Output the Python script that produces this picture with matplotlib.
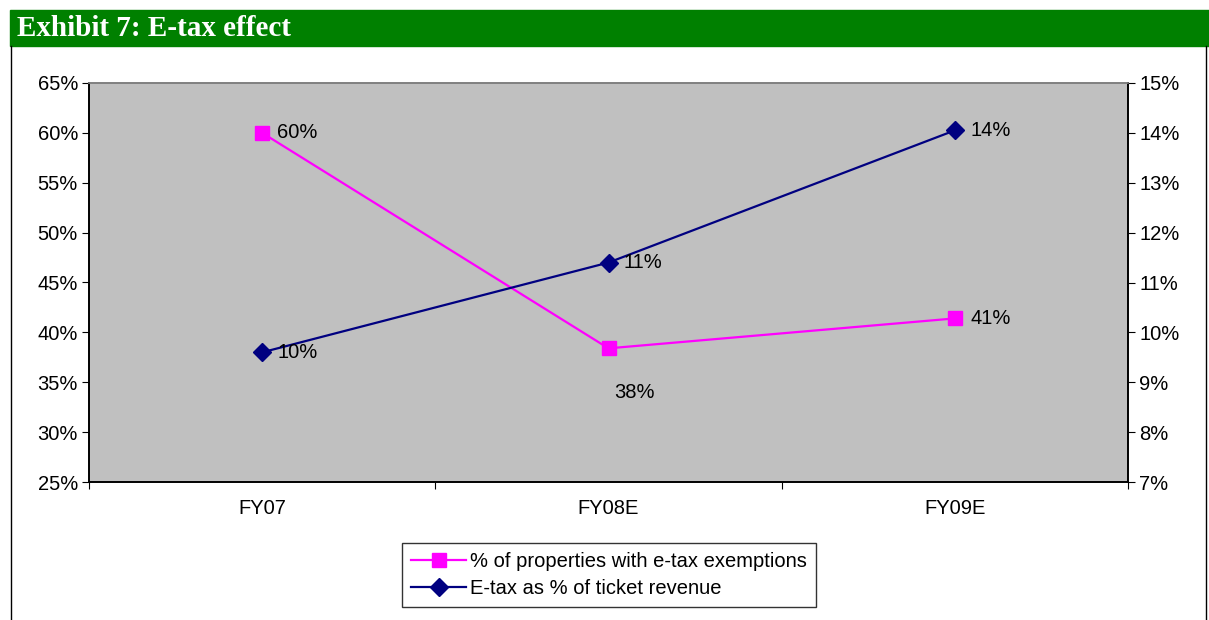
import matplotlib
matplotlib.use("Agg")
import matplotlib.pyplot as plt
from matplotlib.patches import Rectangle
from matplotlib.lines import Line2D
from matplotlib.ticker import FuncFormatter, MultipleLocator

plt.rcParams["font.family"] = ["Liberation Sans", "DejaVu Sans"]

years = ["FY07", "FY08E", "FY09E"]
exempt_pct = [60.0, 38.4, 41.4]   # % of properties with e-tax exemptions (left axis)
etax_pct = [9.6, 11.4, 14.05]     # e-tax as % of ticket revenue (right axis)

W, H = 1209, 620
FS = 14.5
fig = plt.figure(figsize=(W / 100, H / 100), dpi=100)

# green header bar + frame lines
fig.patches.append(Rectangle((10 / W, 1 - 46 / H), 1199 / W, 36 / H,
                             transform=fig.transFigure, color="#008000", zorder=0))
fig.text(17 / W, 1 - 28 / H, "Exhibit 7: E-tax effect", color="white",
         fontsize=21, fontweight="bold", family="Liberation Serif", va="center", ha="left")
for xp in (10.5, 1206):
    fig.lines.append(Line2D([xp / W, xp / W], [0, 1 - 46 / H], transform=fig.transFigure,
                            color="black", linewidth=1))

ax = fig.add_axes([89 / W, 1 - 482 / H, (1128 - 89) / W, (482 - 83) / H])
ax.set_facecolor("#C0C0C0")
ax2 = ax.twinx()

x = list(range(len(years)))
ln1, = ax.plot(x, exempt_pct, color="#FF00FF", linewidth=1.6, marker="s", markersize=10,
               label="% of properties with e-tax exemptions")
ln2, = ax2.plot(x, etax_pct, color="#000080", linewidth=1.6, marker="D", markersize=9,
                label="E-tax as % of ticket revenue")

ax.set_xlim(-0.5, len(years) - 0.5)
ax.set_ylim(25, 65)
ax2.set_ylim(7, 15)
ax.yaxis.set_major_locator(MultipleLocator(5))
ax2.yaxis.set_major_locator(MultipleLocator(1))
pct = FuncFormatter(lambda v, _: f"{v:.0f}%")
ax.yaxis.set_major_formatter(pct)
ax2.yaxis.set_major_formatter(pct)

ax.set_xticks([i - 0.5 for i in range(len(years) + 1)])
ax.set_xticklabels([])
ax.set_xticks(x, minor=True)
ax.set_xticklabels(years, minor=True)
ax.tick_params(axis="x", which="major", direction="out", length=5, color="black")
ax.tick_params(axis="x", which="minor", length=0, pad=12, labelsize=FS)
ax.tick_params(axis="y", direction="out", length=5, labelsize=FS, pad=3)
ax2.tick_params(axis="y", direction="out", length=5, labelsize=FS, pad=3)

for a in (ax, ax2):
    for s in a.spines.values():
        s.set_color("black")
        s.set_linewidth(1.2)
    a.spines["top"].set_color("#808080")

# data labels (offsets in points)
for i, v in enumerate(exempt_pct):
    if i == 1:
        ax.annotate(f"{v:.0f}%", (i, v), xytext=(19, -32), textcoords="offset points",
                    ha="center", va="center", fontsize=FS)
    else:
        ax.annotate(f"{v:.0f}%", (i, v), xytext=(11, 0), textcoords="offset points",
                    ha="left", va="center", fontsize=FS)
for i, v in enumerate(etax_pct):
    ax2.annotate(f"{v:.0f}%", (i, v), xytext=(11, 0), textcoords="offset points",
                 ha="left", va="center", fontsize=FS)

leg = fig.legend(handles=[ln1, ln2], loc="center", bbox_to_anchor=(609 / W, 1 - 575 / H),
                 frameon=True, fancybox=False, fontsize=FS, handlelength=2.7,
                 handletextpad=0.2, borderpad=0.45, borderaxespad=0, labelspacing=0.4)
leg.get_frame().set_edgecolor("black")
leg.get_frame().set_linewidth(1)

fig.savefig("out.png", dpi=100)
